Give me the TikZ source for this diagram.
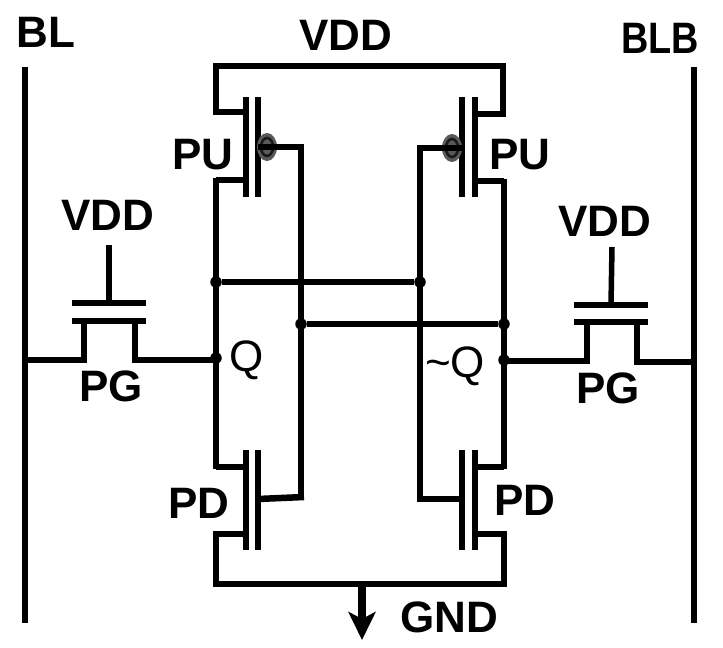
\documentclass[tikz,border=0pt]{standalone}
\usepackage{fontspec}
\setmainfont{Liberation Sans}
\usetikzlibrary{shapes.geometric,arrows.meta}
\tikzset{
  wire/.style={line width=5.5pt, line join=miter, line cap=butt},
  gatewire/.style={line width=6.5pt, line cap=butt},
  lab/.style={font=\fontsize{44}{44}\selectfont\bfseries, inner sep=0pt},
  plainlab/.style={font=\fontsize{44}{44}\selectfont, inner sep=0pt},
  junct/.style={circle, fill=black, inner sep=0pt, minimum size=11.5pt},
  halo/.style={ellipse, fill=black!65, inner sep=0pt, minimum width=20pt, minimum height=28pt},
}
\begin{document}
\begin{tikzpicture}[x=1pt, y=-1pt, >=latex]
\useasboundingbox (0,0) rectangle (723,648);
% bit lines
\coordinate (blt) at (25,67);
\coordinate (blb) at (25,623);
\coordinate (brt) at (694,67);
\coordinate (brb) at (694,623);
\draw[wire] (blt)--(blb);
\draw[wire] (brt)--(brb);
\node[lab] (BL) at (46,32){BL};
\node[lab, xscale=.86] (BLB) at (660,38){BLB};

% rails
\coordinate (vl) at (216,66);
\coordinate (vr) at (503,66);
\coordinate (gl) at (216,584);
\coordinate (gr) at (504,584);
\coordinate (gmid) at (362,584);
\coordinate (gtip) at (362,640);
\node[lab] (VDDt) at (346,35){VDD};
\node[lab] (GND) at (449,617){GND};
\draw[wire, line cap=square] (246,112)--(216,112)--(vl)--(vr)--(503,114)--(475,114);
\draw[wire] (246,534)--(216,534)--(gl)--(gr)--(504,534)--(475,534);
\draw[line width=8pt, -{Stealth[length=28pt,width=27pt,inset=7pt]}] (gmid)--(gtip);

% PU and PD bars
\foreach \xa/\xb in {246/258, 462/475}{
  \draw[wire] (\xa,97)--(\xa,197);
  \draw[wire] (\xb,97)--(\xb,197);
  \draw[wire] (\xa,450)--(\xa,550);
  \draw[wire] (\xb,450)--(\xb,550);
}
\node[halo] (hl) at (267,147){};
\node[halo] (hr) at (452,148){};
\draw[line width=2.5pt, black!90] (hl) ellipse (6pt and 9pt);
\draw[line width=2.5pt, black!90] (hr) ellipse (6pt and 9pt);
\node[lab] (PUl) at (203,155){PU};
\node[lab] (PUr) at (520,155){PU};
\node[lab] (PDl) at (199,503){PD};
\node[lab] (PDr) at (525,500){PD};

% inner nodes
\draw[wire] (216,180)--(246,180);
\draw[wire] (475,181)--(504,181);
\draw[wire] (216,467)--(246,467);
\draw[wire] (475,467)--(504,467);
\draw[wire] (216,178)--(216,469);
\draw[wire] (504,179)--(504,469);
\draw[gatewire] (258,147)--(304,147);
\draw[gatewire] (258,499)--(304,497);
\draw[gatewire] (462,148)--(417,148);
\draw[gatewire] (462,499)--(417,499);
\draw[wire] (301,145)--(301,500);
\draw[wire] (420,146)--(420,502);

% cross coupling
\node[junct] (qa) at (216,282){};
\node[junct] (qb) at (420,282){};
\node[junct] (qc) at (301,324){};
\node[junct] (qd) at (504,324){};
\node[junct] (q) at (216,358){};
\node[junct] (qn) at (504,360){};
\draw[wire] (qa)--(qb);
\draw[wire] (qc)--(qd);
\node[plainlab] (Q) at (247,360){Q};
\node[plainlab] (Qn) at (455,366){\textasciitilde Q};

% pass gates
\draw[wire] (72,303)--(146,303);
\draw[wire] (72,321)--(146,321);
\draw[wire] (109,245)--(109,303);
\draw[wire, line cap=square] (25,360)--(84,360)--(84,321);
\draw[wire, line cap=square] (135,321)--(135,360)--(216,360);
\node[lab] (VDDl) at (108,215){VDD};
\node[lab] (PGl) at (111,386){PG};

\draw[wire] (574,305)--(648,305);
\draw[wire] (574,322)--(648,322);
\draw[wire] (612,247)--(611,305);
\draw[wire, line cap=square] (504,361)--(587,361)--(587,322);
\draw[wire, line cap=square] (637,322)--(637,362)--(694,362);
\node[lab] (VDDr) at (605,221){VDD};
\node[lab] (PGr) at (608,388){PG};
\end{tikzpicture}
\end{document}
